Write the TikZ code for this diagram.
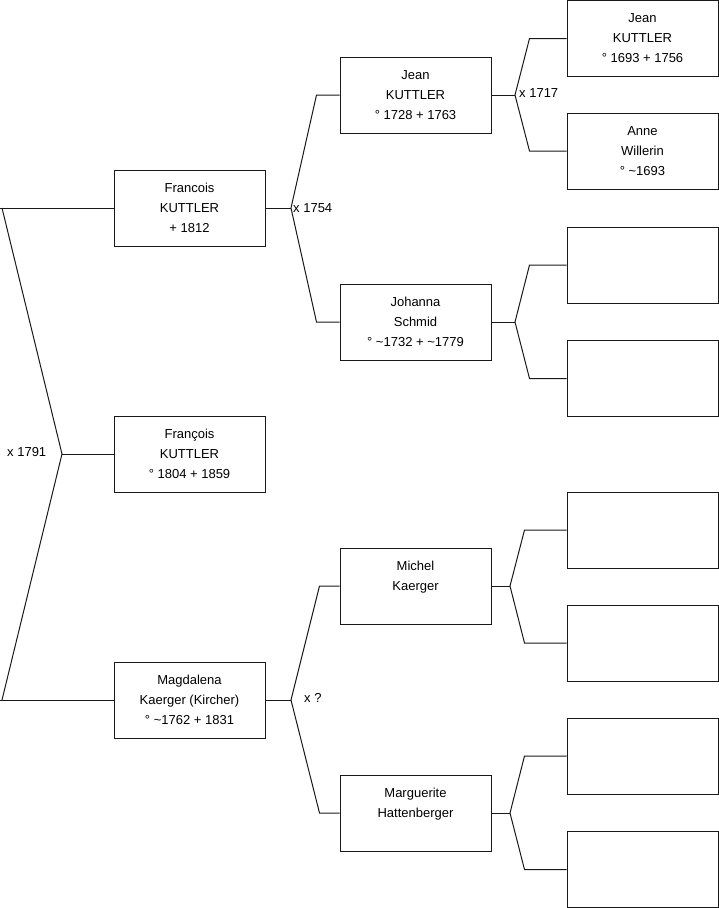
\documentclass[tikz,border=0pt]{standalone}
\usepackage{fontspec}
\setmainfont{Liberation Sans}
\begin{document}
\begin{tikzpicture}[x=1pt,y=-1pt,
  box/.style={draw=black!90,line width=1pt,minimum width=151pt,minimum height=76pt,inner sep=0pt,align=center,font=\fontsize{13}{20}\selectfont},
  conn/.style={draw=black!90,line width=1pt},
  lbl/.style={anchor=west,inner sep=0pt,font=\fontsize{13}{14}\selectfont}]
\useasboundingbox (0,0) rectangle (719,908);
% column 1
\node[box] (fr) at (189.5,208) {Francois\\KUTTLER\\+ 1812};
\node[box] (fs) at (189.5,454) {François\\KUTTLER\\° 1804 + 1859};
\node[box] (mg) at (189.5,700) {Magdalena\\Kaerger (Kircher)\\° \textasciitilde1762 + 1831};
% column 2
\node[box] (jk) at (415.5,95) {Jean\\KUTTLER\\° 1728 + 1763};
\node[box] (js) at (415.5,322) {Johanna\\Schmid\\° \textasciitilde1732 + \textasciitilde1779};
\node[box] (mk) at (415.5,586) {Michel\\Kaerger\\{}};
\node[box] (mh) at (415.5,813) {Marguerite\\Hattenberger\\{}};
% column 3
\node[box] (j1) at (642.5,38.5) {Jean\\KUTTLER\\° 1693 + 1756};
\node[box] (aw) at (642.5,151) {Anne\\Willerin\\° \textasciitilde1693};
\node[box] (e1) at (642.5,265) {};
\node[box] (e2) at (642.5,378.5) {};
\node[box] (e3) at (642.5,530) {};
\node[box] (e4) at (642.5,643) {};
\node[box] (e5) at (642.5,756) {};
\node[box] (e6) at (642.5,869.5) {};
% fork points
\coordinate (k0) at (62,454);
\coordinate (k1) at (291,208);
\coordinate (k2) at (291,700);
\coordinate (k3) at (515,95);
\coordinate (k4) at (515,322);
\coordinate (k5) at (510,586);
\coordinate (k6) at (510,813);
% connectors
\draw[conn] (fr.west) -- (0,208);
\draw[conn] (mg.west) -- (0,700);
\draw[conn] (2,208) -- (k0) -- (2,700);
\draw[conn] (fs.west) -- (k0);
\draw[conn] (fr.east) -- (k1);
\draw[conn] (jk.west) -- ++(-23,0) -- (k1) -- ([xshift=-23pt]js.west) -- (js.west);
\draw[conn] (mg.east) -- (k2);
\draw[conn] (mk.west) -- ++(-20,0) -- (k2) -- ([xshift=-20pt]mh.west) -- (mh.west);
\draw[conn] (jk.east) -- (k3);
\draw[conn] (j1.west) -- ++(-37,0) -- (k3) -- ([xshift=-37pt]aw.west) -- (aw.west);
\draw[conn] (js.east) -- (k4);
\draw[conn] (e1.west) -- ++(-37,0) -- (k4) -- ([xshift=-37pt]e2.west) -- (e2.west);
\draw[conn] (mk.east) -- (k5);
\draw[conn] (e3.west) -- ++(-42,0) -- (k5) -- ([xshift=-42pt]e4.west) -- (e4.west);
\draw[conn] (mh.east) -- (k6);
\draw[conn] (e5.west) -- ++(-42,0) -- (k6) -- ([xshift=-42pt]e6.west) -- (e6.west);
% labels
\node[lbl] (l0) at (7,452) {x 1791};
\node[lbl] (l1) at (293,208) {x 1754};
\node[lbl] (l2) at (304,698) {x ?};
\node[lbl] (l3) at (519,93) {x 1717};
\end{tikzpicture}
\end{document}
